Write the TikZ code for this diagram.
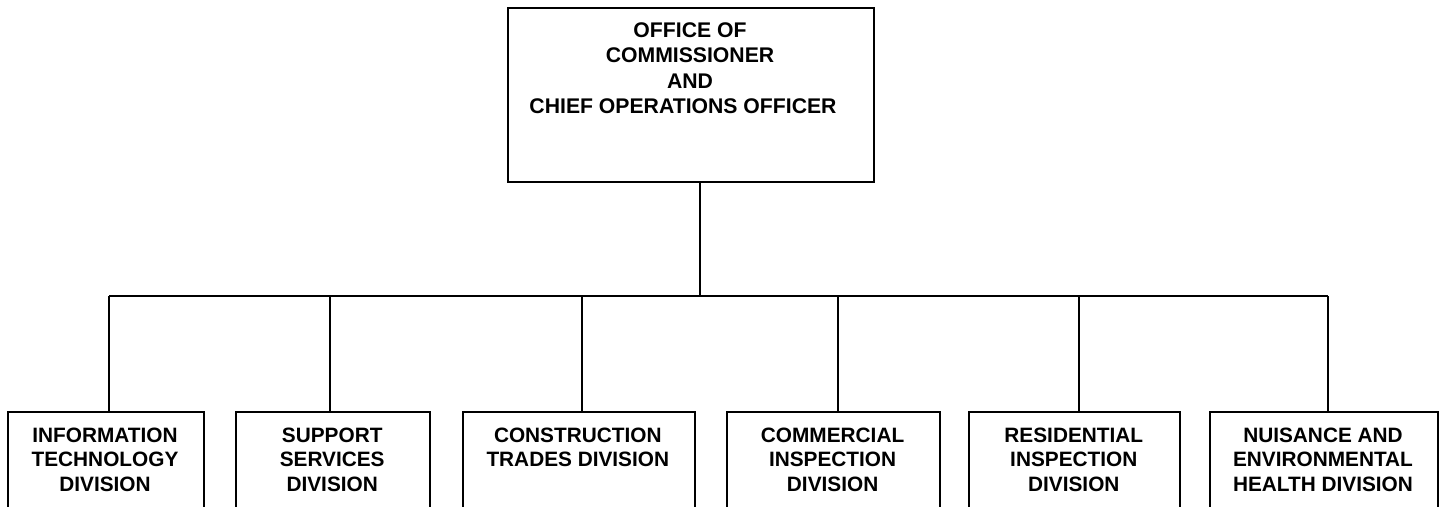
\documentclass[tikz,border=0pt]{standalone}
\usepackage{fontspec}
\setmainfont{Liberation Sans}
\begin{document}
\begin{tikzpicture}[x=1pt,y=-1pt,line width=1.8pt,
  orgbox/.style={draw,line width=1.8pt,inner sep=0pt,anchor=north west},
  toptext/.style={anchor=north,inner sep=0pt,align=center,font=\bfseries\fontsize{21.2}{25.5}\selectfont},
  divtext/.style={anchor=north,inner sep=0pt,align=center,font=\bfseries\fontsize{20.8}{24.5}\selectfont}]
\useasboundingbox (0,0) rectangle (1443,506);
\clip (0,0) rectangle (1443,506);
% top box
\node[orgbox,minimum width=366,minimum height=174] (top) at (507,7) {};
\node[toptext] (toplbl) at (690,21.7) {OFFICE OF\\COMMISSIONER\\AND\\CHIEF OPERATIONS OFFICER\hspace*{14pt}};
% division boxes
\node[orgbox,minimum width=195.4,minimum height=130] (b1) at (7.3,411) {};
\node[orgbox,minimum width=193.7,minimum height=130] (b2) at (235.3,411) {};
\node[orgbox,minimum width=232.3,minimum height=130] (b3) at (461.7,411) {};
\node[orgbox,minimum width=213.3,minimum height=130] (b4) at (726,411) {};
\node[orgbox,minimum width=211,minimum height=130] (b5) at (968.3,411) {};
\node[orgbox,minimum width=227.4,minimum height=130] (b6) at (1209.3,411) {};
\node[divtext] (t1) at (105,426.7) {INFORMATION\\TECHNOLOGY\\DIVISION};
\node[divtext] (t2) at (332.2,426.7) {SUPPORT\\SERVICES\\DIVISION};
\node[divtext] (t3) at (577.8,426.7) {CONSTRUCTION\\TRADES DIVISION};
\node[divtext] (t4) at (832.6,426.7) {COMMERCIAL\\INSPECTION\\DIVISION};
\node[divtext] (t5) at (1073.8,426.7) {RESIDENTIAL\\INSPECTION\\DIVISION};
\node[divtext] (t6) at (1323,426.7) {NUISANCE AND\\ENVIRONMENTAL\\HEALTH DIVISION};
% connectors
\coordinate (bus) at (0,295.7);
\draw ([xshift=9.3]top.south) -- ([xshift=9.3]top.south |- bus);
\draw ([xshift=3.3]b1.north |- bus) -- ([xshift=3.7]b6.north |- bus);
\draw ([xshift=3.3]b1.north) -- ([xshift=3.3]b1.north |- bus);
\draw ([xshift=-2.9]b2.north) -- ([xshift=-2.9]b2.north |- bus);
\draw ([xshift=3.2]b3.north) -- ([xshift=3.2]b3.north |- bus);
\draw ([xshift=4.1]b4.north) -- ([xshift=4.1]b4.north |- bus);
\draw ([xshift=3.9]b5.north) -- ([xshift=3.9]b5.north |- bus);
\draw ([xshift=3.7]b6.north) -- ([xshift=3.7]b6.north |- bus);
\end{tikzpicture}
\end{document}
